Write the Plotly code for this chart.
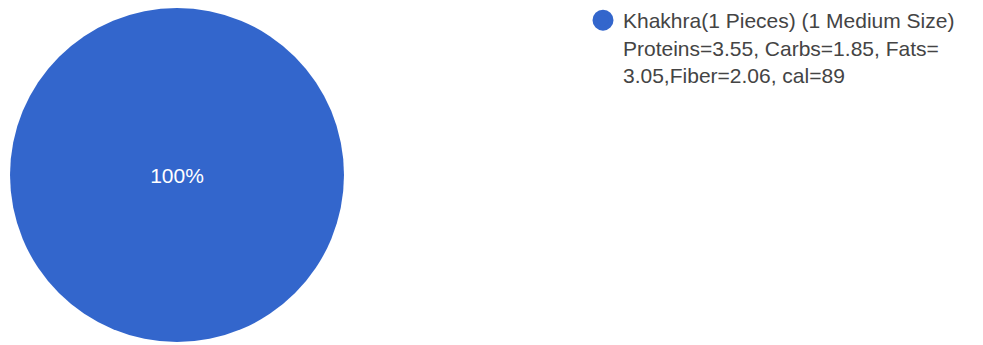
import plotly.graph_objects as go

# Food item and its nutrition facts
items = ["Khakhra(1 Pieces) (1 Medium Size)"]
proteins = [3.55]
carbs = [1.85]
fats = [3.05]
fiber = [2.06]
calories = [89]
servings = [1]

slice_color = "#3366CC"
font_family = "Arial, 'Liberation Sans', sans-serif"

labels = [
    f"{name}<br>Proteins={p}, Carbs={c}, Fats=<br>{f},Fiber={fb}, cal={cal}"
    for name, p, c, f, fb, cal in zip(items, proteins, carbs, fats, fiber, calories)
]

fig = go.Figure()

fig.add_trace(go.Pie(
    labels=labels,
    values=servings,
    marker=dict(colors=[slice_color], line=dict(width=0)),
    textinfo="percent",
    textposition="inside",
    insidetextfont=dict(color="white", size=21, family=font_family),
    sort=False,
    showlegend=False,
    domain=dict(x=[10 / 983, 344 / 983], y=[2 / 345, 338 / 345]),
    hoverinfo="label+percent",
))

# Legend entry with a round swatch
fig.add_trace(go.Scatter(
    x=[None], y=[None],
    mode="markers",
    name=labels[0],
    marker=dict(symbol="circle", size=16, color=slice_color,
                line=dict(color=slice_color, width=5)),
    showlegend=True,
))

fig.update_layout(
    width=983, height=345,
    margin=dict(l=0, r=0, t=0, b=0),
    paper_bgcolor="white",
    plot_bgcolor="white",
    xaxis=dict(visible=False),
    yaxis=dict(visible=False),
    legend=dict(
        x=583 / 983, xanchor="left",
        y=1, yanchor="top",
        valign="top",
        font=dict(size=21, color="#444444", family=font_family),
        bgcolor="rgba(0,0,0,0)",
        borderwidth=0,
        tracegroupgap=0,
    ),
)

fig.write_html("out.html")
